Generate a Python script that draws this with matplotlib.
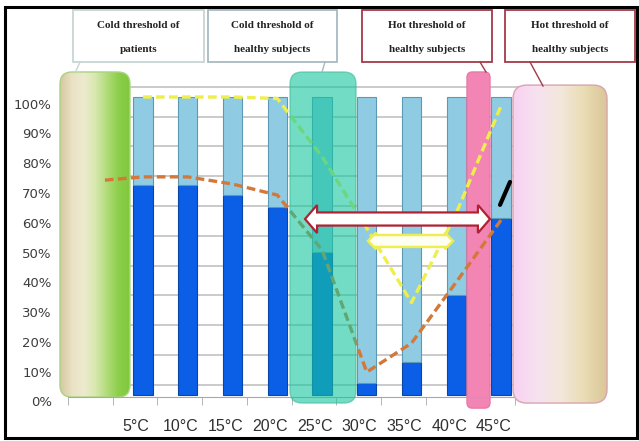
import numpy as np
import matplotlib.pyplot as plt
from matplotlib.patches import FancyBboxPatch, Polygon, Rectangle
from matplotlib.colors import LinearSegmentedColormap
from matplotlib.transforms import ScaledTranslation

# data (percent of subjects)
temps = ['5°C', '10°C', '15°C', '20°C', '25°C', '30°C', '35°C', '40°C', '45°C']
dark = [70.5, 70.5, 67.1, 63.1, 48.0, 4.0, 11.1, 33.6, 59.4]
light = [100 - d for d in dark]
yellow = [100, 100, 100, 99.5, 80, 56, 31, 61, 97]
orange_x = [0.15, 1, 2, 3, 4, 5, 6, 7, 8, 9]
orange = [72.1, 73.2, 73.2, 70.8, 67.1, 48.7, 7.7, 17.4, 37.9, 58.7]
yticks = np.arange(0, 101, 10)

W, H = 639, 441
fig = plt.figure(figsize=(W / 100, H / 100), dpi=100)


def px_box(l, t, r, b):
    return [l / W, 1 - b / H, (r - l) / W, (b - t) / H]


ax = fig.add_axes(px_box(56, 60, 620, 412))
pos = np.arange(1, len(temps) + 1)
ASPECT = 44.75 / 2.98  # pixels per x unit / pixels per y unit

# back wall grid
ax.hlines(yticks + 3.4, -0.68, 10.3, color='#bcbcbc', lw=1.1, zorder=1)


def capsule(x0, x1, y0, y1, r, colors=None, face=None, alpha=1, edge='none', z=2):
    patch = FancyBboxPatch((x0, y0), x1 - x0, y1 - y0,
                           boxstyle=f'round,pad=0,rounding_size={r}',
                           mutation_aspect=ASPECT, facecolor=face or 'none',
                           edgecolor=edge, lw=1, alpha=alpha, zorder=z)
    ax.add_patch(patch)
    if colors:
        cmap = LinearSegmentedColormap.from_list('g', colors)
        im = ax.imshow(np.linspace(0, 1, 256)[None, :], cmap=cmap, aspect='auto',
                       extent=[x0, x1, y0, y1], zorder=z - 0.01, interpolation='bicubic')
        im.set_clip_path(patch)
    return patch


# patient cold-threshold capsule
capsule(-0.855, 0.709, -0.7, 108.4, 0.27,
        colors=['#d6c79f', '#e9e1c3', '#eeead0', '#d9e8b0', '#b2dc7c', '#8dcf4a', '#80c83e'],
        edge='#a8d480', z=1.5)

# stacked cylinders
ax.bar(pos, dark, width=0.43, color='#0b5fe6', edgecolor='#0a45a8', lw=0.8, zorder=2)
ax.bar(pos, light, bottom=dark, width=0.43, color='#8fcbe3', edgecolor='#5d98b5', lw=0.8, zorder=2)

# hot-threshold strip
capsule(8.24, 8.754, -4.4, 108.4, 0.12, face='#f385b5', edge='#e87aa8', z=2.2)

# dashed curves
ax.plot(orange_x, orange, color='#d4783a', lw=2.4, ls=(0, (2.6, 1.3)), zorder=2.5)
ax.plot(pos, yellow, color='#eeee4c', lw=2.4, ls=(0, (2.6, 1.3)), zorder=2.5)
ax.plot([8.978, 9.201], [63.8, 71.5], color='black', lw=3, solid_capstyle='round', zorder=4)

# healthy cold-threshold capsule (translucent)
capsule(4.285, 5.76, -2.7, 108.4, 0.27, face='#14c79e', alpha=0.6, edge='#40b898', z=3)

# healthy hot-threshold capsule
capsule(9.268, 11.369, -2.7, 104.0, 0.31,
        colors=['#f9d0f2', '#f6e2f0', '#f3e8dc', '#eadcb4', '#d9c597'], edge='#d9a4ae', z=3)


def darrow(x0, x1, yc, body, head, hlen, face, edge, lw):
    pts = [(x0, yc), (x0 + hlen, yc + head), (x0 + hlen, yc + body),
           (x1 - hlen, yc + body), (x1 - hlen, yc + head), (x1, yc),
           (x1 - hlen, yc - head), (x1 - hlen, yc - body),
           (x0 + hlen, yc - body), (x0 + hlen, yc - head)]
    ax.add_patch(Polygon(pts, closed=True, facecolor=face, edgecolor=edge, lw=lw, zorder=4))


darrow(4.62, 8.754, 59.06, 2.2, 4.7, 0.27, 'white', '#b02232', 1.6)
darrow(6.028, 7.927, 51.7, 2.0, 2.8, 0.18, '#fffff2', '#eeee50', 1.8)

ax.set_xlim(-0.944, 11.659)
ax.set_ylim(-5.705, 112.42)

for s in ['top', 'right', 'left']:
    ax.spines[s].set_visible(False)
ax.spines['bottom'].set_position(('data', -0.67))
ax.spines['bottom'].set_bounds(-0.68, 10.3)
ax.spines['bottom'].set_color('#a8a8a8')

ax.set_yticks(yticks)
ax.set_yticklabels([f'{v}%' for v in yticks], fontsize=9.5, color='#3c3c3c')
ax.tick_params(axis='y', length=0, pad=3)
shift = ScaledTranslation(0, -0.065, fig.dpi_scale_trans)
for lab in ax.get_yticklabels():
    lab.set_transform(lab.get_transform() + shift)

ax.set_xticks(pos - 0.16)
ax.set_xticklabels(temps, fontsize=11.5, color='#303030', family='Liberation Sans')
ax.set_xticks(np.arange(11) - 0.68, minor=True)
ax.tick_params(axis='x', which='major', length=0, pad=16)
ax.tick_params(axis='x', which='minor', length=6, color='#a8a8a8')

# overlay for callouts and frame (pixel units)
deco = fig.add_axes([0, 0, 1, 1], zorder=5)
deco.set_xlim(0, W)
deco.set_ylim(H, 0)
deco.axis('off')
deco.patch.set_alpha(0)

boxes = [
    (73, 204, 'Cold threshold of', 'patients', '#c6d6d6', (80, 62), (75, 73)),
    (208, 337, 'Cold threshold of', 'healthy subjects', '#a9b9c2', (325, 62), (322, 72)),
    (362, 492, 'Hot threshold of', 'healthy subjects', '#a23a4a', (480, 62), (486, 72)),
    (505, 635, 'Hot threshold of', 'healthy subjects', '#a23a4a', (530, 62), (543, 86)),
]
for l, r, t1, t2, ec, p0, p1 in boxes:
    deco.add_patch(Rectangle((l, 10), r - l, 52, facecolor='white', edgecolor=ec, lw=1.3))
    deco.text((l + r) / 2, 25, t1, ha='center', va='center', fontsize=8, weight='bold',
              family='Liberation Serif', color='#222222')
    deco.text((l + r) / 2, 50, t2, ha='center', va='center', fontsize=8, weight='bold',
              family='Liberation Serif', color='#222222')
    deco.plot([p0[0], p1[0]], [p0[1], p1[1]], color=ec, lw=1)

deco.add_patch(Rectangle((5, 7), 632, 431, facecolor='none', edgecolor='black', lw=2.2))

fig.savefig('out.png', dpi=100)
